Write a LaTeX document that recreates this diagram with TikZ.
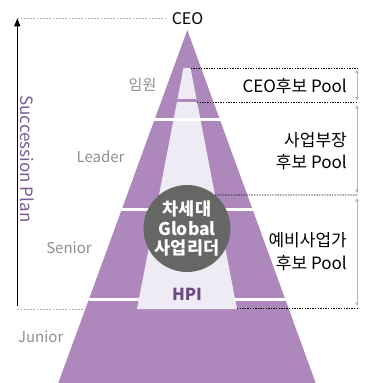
\documentclass[tikz,border=0pt]{standalone}
\usepackage{fontspec}
\setmainfont{Noto Sans CJK KR}
\usetikzlibrary{arrows.meta}
\definecolor{tripurple}{HTML}{AE87BD}
\definecolor{lightlav}{HTML}{EFEBF4}
\definecolor{darkgray}{HTML}{656765}
\definecolor{hpicol}{HTML}{6B4C82}
\definecolor{graylab}{HTML}{8E8E8E}
\definecolor{succol}{HTML}{7C5B96}
\definecolor{dotpurple}{HTML}{C29BD0}
\definecolor{arrpurple}{HTML}{C7A6D5}
\tikzset{
  levellabel/.style={text=graylab, font=\fontsize{15}{17}\selectfont, inner sep=0pt},
  poollabel/.style={anchor=east, align=right, font=\fontsize{17}{22.5}\selectfont, inner sep=0pt},
  blackdot/.style={line width=0.8pt, dash pattern=on 1.4pt off 1.2pt},
  purpledot/.style={dotpurple, line width=0.8pt, dash pattern=on 1.8pt off 1.4pt},
  poolarrow/.style={arrpurple, line width=0.8pt, {Triangle[length=3.5pt,width=3.5pt]}-{Triangle[length=3.5pt,width=3.5pt]}},
}
\begin{document}
\begin{tikzpicture}[x=1pt,y=-1pt]
\useasboundingbox (0,0) rectangle (367,383);
% left scale lines
\coordinate (ltop) at (17.3,18.3);
\coordinate (lbot) at (17.3,309);
\coordinate (lbotend) at (150,309);
\coordinate (arrbot) at (17.3,305.5);
\node[font=\fontsize{16}{18}\selectfont, inner sep=0pt] (ceo) at (187.5,19) {CEO};
\coordinate (ltopend) at (165,18.3);
\draw[purpledot] (ltop) -- (ltopend);
\draw[purpledot] (lbot) -- (lbotend);
\draw[line width=1.2pt, -{Triangle[length=8pt,width=6pt]}] (arrbot) -- (ltop);
% pyramid
\coordinate (apex) at (187.3,30);
\coordinate (bl) at (58.3,383);
\coordinate (br) at (315.7,383);
\fill[tripurple] (apex) -- (bl) -- (br) -- cycle;
\begin{scope}
  \clip (apex) -- (bl) -- (br) -- cycle;
  \fill[white] (0,298.2) rectangle (367,300.8);
\end{scope}
% light inner region
\coordinate (lt1) at (183.5,68);
\coordinate (lt2) at (190.5,68);
\coordinate (lt3) at (237,309);
\coordinate (lt4) at (137,309);
\fill[lightlav] (lt1) -- (lt2) -- (lt3) -- (lt4) -- cycle;
\begin{scope}
  \clip (apex) -- (bl) -- (br) -- cycle;
  \fill[white] (0,117.5) rectangle (367,120.5);
  \fill[white] (0,208.2) rectangle (367,211);
\end{scope}
\begin{scope}
  \clip (lt1) -- (lt2) -- (lt3) -- (lt4) -- cycle;
  \fill[tripurple] (0,99.3) rectangle (367,102.2);
\end{scope}
% circle
\node[circle, fill=darkgray, minimum size=87pt, inner sep=0pt, text=white, align=center,
      font=\bfseries\fontsize{17.5}{19.5}\selectfont] (ldr) at (187,228.5) {차세대\\Global\\사업리더};
\node[text=hpicol, font=\bfseries\fontsize{16.5}{18}\selectfont, inner sep=0pt] (hpi) at (187,294.5) {HPI};
% level labels
\node[levellabel] (l1) at (142.5,85) {임원};
\node[levellabel] (l2) at (100.5,156.5) {Leader};
\node[levellabel] (l3) at (69,248) {Senior};
\node[levellabel] (l4) at (40.7,337) {Junior};
\node[rotate=-90, text=succol, font=\fontsize{17}{19}\selectfont, inner sep=0pt] (sp) at (27,159) {Succession Plan};
% right dashed lines
\coordinate (d1e) at (357,68);
\coordinate (d2s) at (197,102);
\coordinate (d2e) at (357,102);
\coordinate (d3e) at (357,195);
\coordinate (d4e) at (357,308.5);
\coordinate (d4s) at (237,308.5);
\draw[blackdot] (lt2) -- (d1e);
\draw[blackdot] (d2s) -- (d2e);
\draw[blackdot] (ldr.50) -- (d3e);
\draw[blackdot] (d4s) -- (d4e);
% pool arrows
\coordinate (a1t) at (357,69.5);
\coordinate (a1b) at (357,100.5);
\coordinate (a2t) at (357,105);
\coordinate (a2b) at (357,193);
\coordinate (a3t) at (357,198);
\coordinate (a3b) at (357,306);
\draw[poolarrow] (a1t) -- (a1b);
\draw[poolarrow] (a2t) -- (a2b);
\draw[poolarrow] (a3t) -- (a3b);
% pool labels
\node[poollabel] (p1) at (347,86.5) {CEO후보 Pool};
\node[poollabel] (p2) at (347,151) {사업부장\\후보 Pool};
\node[poollabel] (p3) at (347,251.5) {예비사업가\\후보 Pool};
\end{tikzpicture}
\end{document}
